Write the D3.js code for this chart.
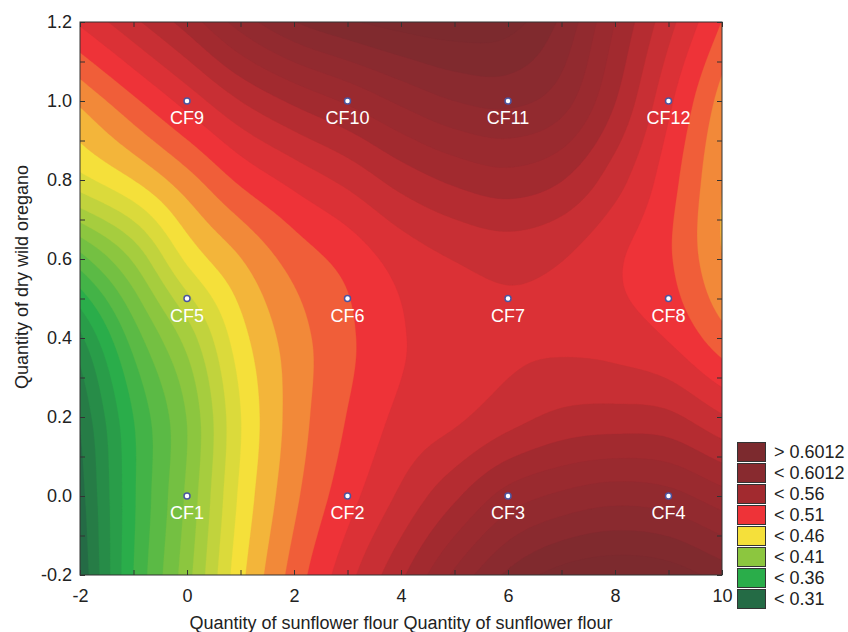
<!DOCTYPE html>
<html>
<head>
<meta charset="utf-8">
<script src="https://cdn.jsdelivr.net/npm/d3@7"></script>
<style>
  html, body { margin: 0; padding: 0; background: #ffffff; }
  svg { display: block; font-family: "Liberation Sans", Arial, sans-serif; }
</style>
</head>
<body>
<svg id="chart" width="848" height="632"></svg>
<script>
// ---------------- DATA ----------------
// grid of the fitted response surface
const gridX = [-2, -1, 0, 1, 2, 3, 4, 5, 6, 7, 8, 9, 10];
const gridY = [1.2, 1.0, 0.8, 0.6, 0.4, 0.2, 0.0, -0.2];
const zAtY120 = [0.512, 0.532, 0.553, 0.578, 0.597, 0.608, 0.615, 0.618, 0.615, 0.595, 0.560, 0.527, 0.497];
const zAtY100 = [0.475, 0.495, 0.515, 0.535, 0.550, 0.562, 0.575, 0.585, 0.588, 0.578, 0.548, 0.513, 0.480];
const zAtY080 = [0.443, 0.460, 0.480, 0.500, 0.514, 0.526, 0.540, 0.550, 0.555, 0.548, 0.528, 0.503, 0.473];
const zAtY060 = [0.380, 0.412, 0.450, 0.472, 0.490, 0.502, 0.515, 0.523, 0.527, 0.523, 0.512, 0.499, 0.473];
const zAtY040 = [0.332, 0.378, 0.415, 0.455, 0.479, 0.495, 0.509, 0.515, 0.520, 0.520, 0.517, 0.509, 0.490];
const zAtY020 = [0.312, 0.360, 0.398, 0.447, 0.478, 0.498, 0.513, 0.520, 0.530, 0.538, 0.540, 0.538, 0.524];
const zAtY000 = [0.305, 0.358, 0.400, 0.450, 0.482, 0.505, 0.525, 0.545, 0.565, 0.575, 0.580, 0.577, 0.565];
const zAtYm020 = [0.300, 0.360, 0.405, 0.456, 0.490, 0.518, 0.545, 0.575, 0.600, 0.615, 0.620, 0.617, 0.605];
const zGrid = [zAtY120, zAtY100, zAtY080, zAtY060, zAtY040, zAtY020, zAtY000, zAtYm020];

// design points
const pointNames = ["CF1","CF2","CF3","CF4","CF5","CF6","CF7","CF8","CF9","CF10","CF11","CF12"];
const pointX = [0, 3, 6, 9, 0, 3, 6, 9, 0, 3, 6, 9];
const pointY = [0, 0, 0, 0, 0.5, 0.5, 0.5, 0.5, 1.0, 1.0, 1.0, 1.0];

// axes
const xTickValues = [-2, 0, 2, 4, 6, 8, 10];
const xTickLabels = ["-2", "0", "2", "4", "6", "8", "10"];
const xMinorTicks = [-1, 1, 3, 5, 7, 9];
const yTickValues = [-0.2, 0.0, 0.2, 0.4, 0.6, 0.8, 1.0, 1.2];
const yTickLabels = ["-0.2", "0.0", "0.2", "0.4", "0.6", "0.8", "1.0", "1.2"];
const yMinorTicks = [-0.1, 0.1, 0.3, 0.5, 0.7, 0.9, 1.1];
const xTitle = "Quantity of sunflower flour Quantity of sunflower flour";
const yTitle = "Quantity of dry wild oregano";

// legend
const legendLabels = ["> 0.6012", "< 0.6012", "< 0.56", "< 0.51", "< 0.46", "< 0.41", "< 0.36", "< 0.31"];
const legendColors = ["#7c2a2e", "#882a2f", "#a22a2f", "#ee3338", "#f5e03a", "#8cc63f", "#2aad4a", "#246b45"];
const colorLevels = [0.31, 0.36, 0.41, 0.46, 0.51, 0.56, 0.6012, 0.6137];
const levelStep = 0.0125;

// ---------------- LAYOUT ----------------
const L = 80, R = 722, T = 22, B = 575;
const svg = d3.select("#chart");
const xs = d3.scaleLinear().domain([-2, 10]).range([L, R]);
const ys = d3.scaleLinear().domain([-0.2, 1.2]).range([B, T]);

const color = d3.scaleLinear()
  .domain(colorLevels)
  .range(legendColors.slice().reverse())
  .clamp(true);

// ---------------- SURFACE ----------------
const nR = zGrid.length, nC = gridX.length;
function gz(r, c) {
  if (r < 0) return 2 * gz(0, c) - gz(1, c);
  if (r > nR - 1) return 2 * gz(nR - 1, c) - gz(nR - 2, c);
  if (c < 0) return 2 * zGrid[r][0] - zGrid[r][1];
  if (c > nC - 1) return 2 * zGrid[r][nC - 1] - zGrid[r][nC - 2];
  return zGrid[r][c];
}
function cr(p0, p1, p2, p3, t) {
  return 0.5 * ((2 * p1) + (-p0 + p2) * t + (2 * p0 - 5 * p1 + 4 * p2 - p3) * t * t + (-p0 + 3 * p1 - 3 * p2 + p3) * t * t * t);
}
const xStepG = gridX[1] - gridX[0];
const yStepG = gridY[0] - gridY[1];
function surf(X, Y) {
  const u = (X - gridX[0]) / xStepG;
  const v = (gridY[0] - Y) / yStepG;
  const i = Math.max(0, Math.min(nC - 2, Math.floor(u)));
  const j = Math.max(0, Math.min(nR - 2, Math.floor(v)));
  const tu = u - i, tv = v - j;
  const rows = [];
  for (let k = -1; k <= 2; k++) {
    rows.push(cr(gz(j + k, i - 1), gz(j + k, i), gz(j + k, i + 1), gz(j + k, i + 2), tu));
  }
  return cr(rows[0], rows[1], rows[2], rows[3], tv);
}

const nx = 301, ny = 211;
const dxF = 12 / (nx - 1), dyF = 1.4 / (ny - 1);
const fine = new Float64Array(nx * ny);
for (let j = 0; j < ny; j++) {
  const Y = 1.2 - j * dyF;
  for (let i = 0; i < nx; i++) {
    fine[j * nx + i] = surf(-2 + i * dxF, Y);
  }
}
const levels = d3.range(0, 30).map(k => 0.26 + k * levelStep);
const contours = d3.contours().size([nx, ny]).thresholds(levels)(fine);

const proj = d3.geoTransform({
  point: function (x, y) {
    this.stream.point(xs(-2 + (x - 0.5) * dxF), ys(1.2 - (y - 0.5) * dyF));
  }
});
const path = d3.geoPath(proj);

svg.append("defs").append("clipPath").attr("id", "plotclip")
  .append("rect").attr("x", L).attr("y", T).attr("width", R - L).attr("height", B - T);

svg.append("g").attr("clip-path", "url(#plotclip)")
  .selectAll("path").data(contours).join("path")
  .attr("d", path)
  .attr("fill", d => color(d.value + levelStep))
  .attr("stroke", d => color(d.value + levelStep))
  .attr("stroke-width", 0.3);

// ---------------- AXES ----------------
const axisColor = "#333";
function styleAxis(g) {
  g.select(".domain").remove();
  g.selectAll(".tick line").attr("stroke", axisColor);
  g.selectAll(".tick text").attr("fill", "#222").style("font-size", "18px")
    .style("font-family", '"Liberation Sans", Arial, sans-serif');
}
svg.append("g").attr("transform", `translate(0,${B})`)
  .call(d3.axisBottom(xs).tickValues(xTickValues).tickFormat((d, i) => xTickLabels[i]).tickSize(-5).tickPadding(14))
  .call(styleAxis);
svg.append("g").attr("transform", `translate(0,${B})`)
  .call(d3.axisBottom(xs).tickValues(xMinorTicks).tickFormat("").tickSize(-5)).call(styleAxis);
svg.append("g").attr("transform", `translate(0,${T})`)
  .call(d3.axisTop(xs).tickValues(xTickValues.concat(xMinorTicks)).tickFormat("").tickSize(-5)).call(styleAxis);
svg.append("g").attr("transform", `translate(${L},0)`)
  .call(d3.axisLeft(ys).tickValues(yTickValues).tickFormat((d, i) => yTickLabels[i]).tickSize(-5).tickPadding(8))
  .call(styleAxis);
svg.append("g").attr("transform", `translate(${L},0)`)
  .call(d3.axisLeft(ys).tickValues(yMinorTicks).tickFormat("").tickSize(-5)).call(styleAxis);
svg.append("g").attr("transform", `translate(${R},0)`)
  .call(d3.axisRight(ys).tickValues(yTickValues.concat(yMinorTicks)).tickFormat("").tickSize(-5)).call(styleAxis);

svg.append("rect").attr("x", L).attr("y", T).attr("width", R - L).attr("height", B - T)
  .attr("fill", "none").attr("stroke", axisColor).attr("stroke-width", 1);

svg.append("text").attr("x", (L + R) / 2).attr("y", 629).attr("text-anchor", "middle")
  .attr("fill", "#222").style("font-size", "18px").text(xTitle);
svg.append("text").attr("transform", "translate(28,277) rotate(-90)").attr("text-anchor", "middle")
  .attr("fill", "#222").style("font-size", "18px").text(yTitle);

// ---------------- DESIGN POINTS ----------------
const pts = svg.append("g");
pointNames.forEach((name, i) => {
  const px = xs(pointX[i]), py = ys(pointY[i]);
  pts.append("circle").attr("cx", px).attr("cy", py).attr("r", 3)
    .attr("fill", "#ffffff").attr("stroke", "#4b55a0").attr("stroke-width", 1.5);
  pts.append("text").attr("x", px).attr("y", py + 23).attr("text-anchor", "middle")
    .attr("fill", "#ffffff").style("font-size", "18px").text(name);
});

// ---------------- LEGEND ----------------
const lg = svg.append("g");
legendLabels.forEach((lab, k) => {
  const cy = 452 + k * 21;
  lg.append("rect").attr("x", 737.5).attr("y", cy - 9.5).attr("width", 28).attr("height", 19)
    .attr("fill", legendColors[k]).attr("stroke", "#333").attr("stroke-width", 1);
  lg.append("text").attr("x", 774).attr("y", cy).attr("dy", "0.35em")
    .attr("fill", "#222").style("font-size", "18px").text(lab);
});
</script>
</body>
</html>
